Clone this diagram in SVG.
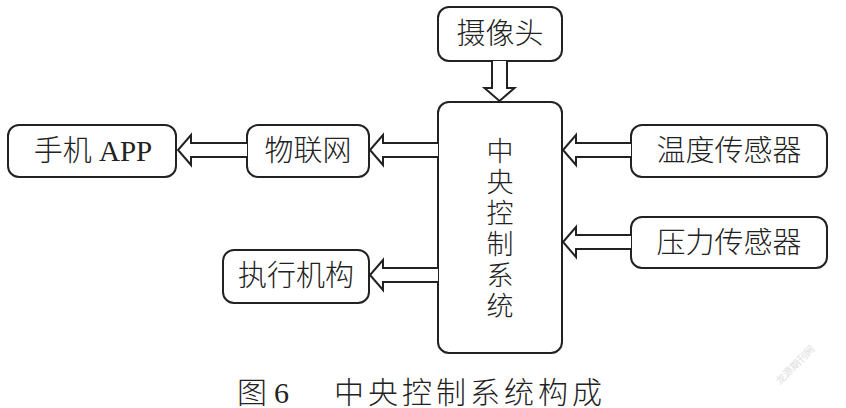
<svg xmlns="http://www.w3.org/2000/svg" width="846" height="408" viewBox="0 0 846 408">
<style>
.box{fill:#fff;stroke:#222;stroke-width:2}
.arr{fill:#fff;stroke:#222;stroke-width:2;stroke-linejoin:miter}
.lbl{font-family:"Liberation Serif","Noto Sans CJK SC",serif;font-size:29px;font-weight:300;fill:#222;text-anchor:middle}
.cap{font-family:"Liberation Serif","Noto Sans CJK SC",serif;font-size:30px;font-weight:300;fill:#222}
</style>
<rect width="846" height="408" fill="#fff"/>
<g id="camera"><rect class="box" x="438" y="7" width="124" height="54" rx="11"/><text class="lbl" x="500" y="44">摄像头</text></g>
<g id="central"><rect class="box" x="438" y="102" width="124" height="251" rx="11"/>
<text class="lbl" x="500" style="font-size:27px"><tspan x="500" y="161">中</tspan><tspan x="500" y="192">央</tspan><tspan x="500" y="223">控</tspan><tspan x="500" y="254">制</tspan><tspan x="500" y="285">系</tspan><tspan x="500" y="316">统</tspan></text></g>
<g id="app"><rect class="box" x="8" y="125" width="168" height="52" rx="11"/><text class="lbl" x="93" y="161">手机 APP</text></g>
<g id="iot"><rect class="box" x="247" y="125" width="122" height="52" rx="11"/><text class="lbl" x="308" y="161">物联网</text></g>
<g id="actuator"><rect class="box" x="223" y="250" width="146" height="53" rx="11"/><text class="lbl" x="296" y="286">执行机构</text></g>
<g id="temp"><rect class="box" x="631" y="125" width="196" height="52" rx="11"/><text class="lbl" x="729" y="161">温度传感器</text></g>
<g id="pressure"><rect class="box" x="631" y="217" width="196" height="51" rx="11"/><text class="lbl" x="729" y="253">压力传感器</text></g>
<g id="connectors">
<path class="arr" d="M492,61 V88 H484.5 L499.5,101 L514.5,88 H507 V61"/>
<path class="arr" d="M438,143 H383 V135 L370,150 L383,165 V157 H438"/>
<path class="arr" d="M247,143 H191 V135 L178,150 L191,165 V157 H247"/>
<path class="arr" d="M438,268 H383 V260 L370,275 L383,290 V282 H438"/>
<path class="arr" d="M631,143 H576 V135 L563,150 L576,165 V157 H631"/>
<path class="arr" d="M631,235 H576 V227 L563,242 L576,257 V249 H631"/>
</g>
<g id="caption">
<text class="cap" x="237" y="403">图</text>
<text class="cap" x="274" y="403">6</text>
<text class="cap" x="334" y="403" letter-spacing="4">中央控制系统构成</text>
</g>
<text x="780" y="385" transform="rotate(-45 780 385)" style="font-family:'Noto Sans CJK SC',sans-serif;font-size:10px;fill:#ddd">龙源期刊网</text>
</svg>
